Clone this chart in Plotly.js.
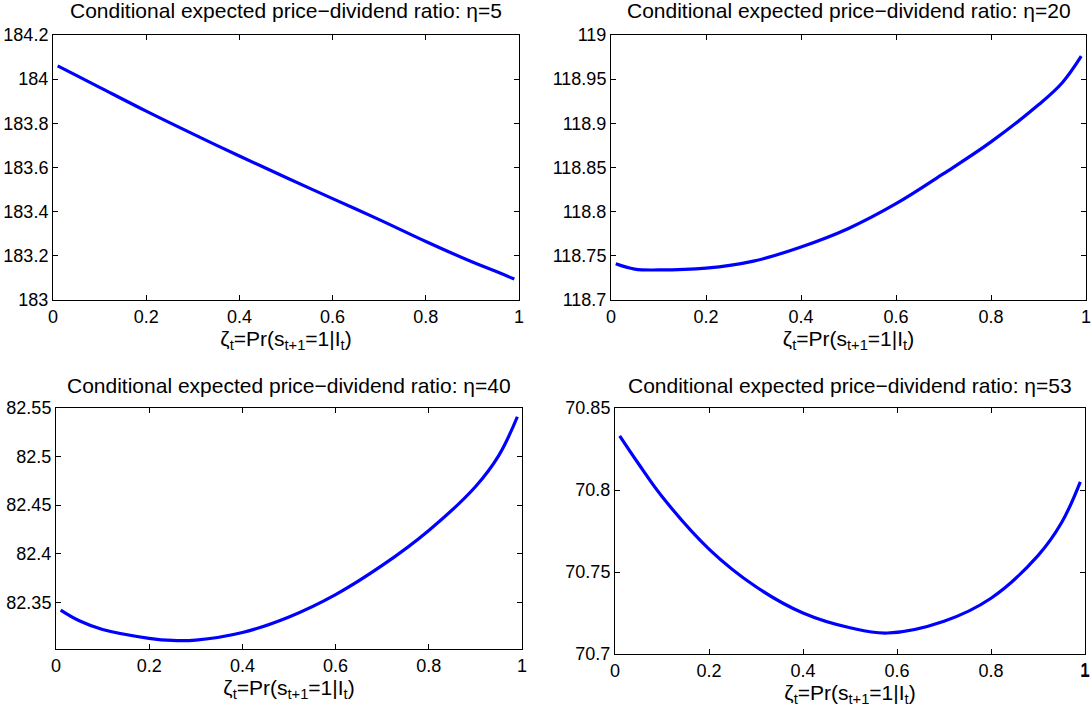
<!DOCTYPE html>
<html>
<head>
<meta charset="utf-8">
<script src="https://cdn.plot.ly/plotly-3.0.1.min.js"></script>
<style>html,body{margin:0;padding:0;background:#fff;}#chart{width:1092px;height:713px;}</style>
</head>
<body>
<div id="chart"></div>
<script>
// ---- data ----
const titles = [
  "Conditional expected price\u2212dividend ratio: \u03b7=5",
  "Conditional expected price\u2212dividend ratio: \u03b7=20",
  "Conditional expected price\u2212dividend ratio: \u03b7=40",
  "Conditional expected price\u2212dividend ratio: \u03b7=53"
];
const xLabel = "\u03b6<sub>t</sub>=Pr(s<sub>t+1</sub>=1|I<sub>t</sub>)";

const zeta5  = [0.01, 0.05, 0.1, 0.2, 0.3, 0.4, 0.5, 0.6, 0.7, 0.8, 0.9, 0.95, 0.99];
const pd_eta5  = [184.06, 184.017, 183.963, 183.855, 183.752, 183.652, 183.555, 183.459, 183.364, 183.265, 183.172, 183.13, 183.095];

const zeta20 = [0.01, 0.05, 0.1, 0.2, 0.3, 0.4, 0.5, 0.6, 0.7, 0.8, 0.9, 0.95, 0.99];
const pd_eta20 = [118.741, 118.735, 118.734, 118.736, 118.744, 118.760, 118.781, 118.809, 118.843, 118.879, 118.921, 118.946, 118.976];

const zeta40 = [0.01, 0.05, 0.1, 0.2, 0.25, 0.3, 0.4, 0.5, 0.6, 0.7, 0.8, 0.9, 0.95, 0.99];
const pd_eta40 = [82.342, 82.331, 82.322, 82.313, 82.3108, 82.3112, 82.319, 82.335, 82.358, 82.388, 82.424, 82.469, 82.501, 82.541];

const zeta53 = [0.01, 0.05, 0.1, 0.2, 0.3, 0.4, 0.5, 0.58, 0.7, 0.8, 0.9, 0.95, 0.99];
const pd_eta53 = [70.833, 70.816, 70.796, 70.764, 70.741, 70.725, 70.716, 70.7128, 70.720, 70.734, 70.760, 70.780, 70.805];

const xTickVals = [0, 0.2, 0.4, 0.6, 0.8, 1];
const xTickText = ["0", "0.2", "0.4", "0.6", "0.8", "1"];

const yTickVals1 = [183, 183.2, 183.4, 183.6, 183.8, 184, 184.2];
const yTickText1 = ["183", "183.2", "183.4", "183.6", "183.8", "184", "184.2"];
const yTickVals2 = [118.7, 118.75, 118.8, 118.85, 118.9, 118.95, 119];
const yTickText2 = ["118.7", "118.75", "118.8", "118.85", "118.9", "118.95", "119"];
const yTickVals3 = [82.35, 82.4, 82.45, 82.5, 82.55];
const yTickText3 = ["82.35", "82.4", "82.45", "82.5", "82.55"];
const yTickVals4 = [70.7, 70.75, 70.8, 70.85];
const yTickText4 = ["70.7", "70.75", "70.8", "70.85"];

const yRanges = [[183, 184.2], [118.7, 119], [82.302, 82.55], [70.7, 70.85]];

// ---- layout ----
const W = 1092, H = 713;
const boxes = [
  {l: 53, r: 519, t: 35, b: 300},
  {l: 611, r: 1086, t: 35, b: 300},
  {l: 56, r: 522, t: 408, b: 649},
  {l: 615, r: 1085, t: 408, b: 654}
];
const titleY = [11, 11, 385, 385];

const xs = [zeta5, zeta20, zeta40, zeta53];
const series = [pd_eta5, pd_eta20, pd_eta40, pd_eta53];
const yTicks = [[yTickVals1, yTickText1], [yTickVals2, yTickText2], [yTickVals3, yTickText3], [yTickVals4, yTickText4]];

const font = "Liberation Sans, Arial, sans-serif";
const traces = [];
const layout = {
  width: W, height: H,
  margin: {l: 0, r: 0, t: 0, b: 0},
  paper_bgcolor: "#fff", plot_bgcolor: "#fff",
  showlegend: false,
  font: {family: font, size: 18, color: "#000"},
  annotations: []
};

for (let i = 0; i < 4; i++) {
  const n = i === 0 ? "" : String(i + 1);
  const bx = boxes[i];
  traces.push({
    x: xs[i], y: series[i], type: "scatter", mode: "lines",
    xaxis: "x" + n, yaxis: "y" + n,
    line: {color: "#0000ff", width: 3.2, shape: "spline", smoothing: 1.1},
    hoverinfo: "x+y"
  });
  const common = {
    showline: true, linecolor: "#000", linewidth: 1, mirror: "ticks",
    ticks: "inside", ticklen: 5, tickwidth: 1, tickcolor: "#000",
    showgrid: false, zeroline: false,
    ticklabeloverflow: "allow",
    tickfont: {family: font, size: 18, color: "#000"}
  };
  layout["xaxis" + n] = Object.assign({}, common, {
    domain: [bx.l / W, bx.r / W],
    anchor: "y" + n,
    range: [0, 1],
    tickmode: "array", tickvals: xTickVals, ticktext: xTickText,
    title: {text: xLabel, font: {family: font, size: 21, color: "#000"}, standoff: 2}
  });
  layout["yaxis" + n] = Object.assign({}, common, {
    domain: [1 - bx.b / H, 1 - bx.t / H],
    anchor: "x" + n,
    range: yRanges[i],
    tickmode: "array", tickvals: yTicks[i][0], ticktext: yTicks[i][1]
  });
  layout.annotations.push({
    text: titles[i], xref: "paper", yref: "paper",
    x: ((bx.l + bx.r) / 2) / W, y: 1 - titleY[i] / H,
    xanchor: "center", yanchor: "middle", showarrow: false,
    font: {family: font, size: 21, color: "#000"}
  });
}

// the last x tick label of the bottom-right panel is dropped by Plotly at the div edge;
// place it on the axis scale of that panel
layout.annotations.push({
  text: xTickText[xTickText.length - 1], xref: "x4", yref: "paper",
  x: xTickVals[xTickVals.length - 1], y: 1 - (boxes[3].b + 16) / H,
  xanchor: "center", yanchor: "middle", showarrow: false,
  font: {family: font, size: 18, color: "#000"}
});

Plotly.newPlot("chart", traces, layout, {displayModeBar: false, staticPlot: true});
</script>
</body>
</html>
